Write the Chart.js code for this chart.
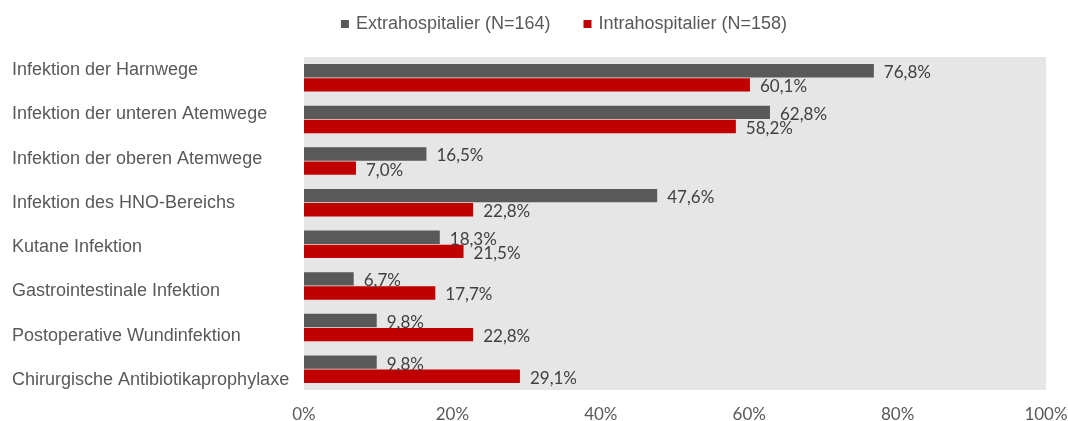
<!DOCTYPE html>
<html>
<head>
<meta charset="utf-8">
<script src="https://cdn.jsdelivr.net/npm/chart.js@4/dist/chart.umd.min.js"></script>
<style>
  html, body { margin: 0; padding: 0; background: #fff; }
  #wrap { width: 1068px; height: 421px; }
</style>
</head>
<body>
<div id="wrap"><canvas id="bar-chart"></canvas></div>
<script>
var categories = [
    "Infektion der Harnwege",
    "Infektion der unteren Atemwege",
    "Infektion der oberen Atemwege",
    "Infektion des HNO-Bereichs",
    "Kutane Infektion",
    "Gastrointestinale Infektion",
    "Postoperative Wundinfektion",
    "Chirurgische Antibiotikaprophylaxe"
];
var extraValues = [76.8, 62.8, 16.5, 47.6, 18.3, 6.7, 9.8, 9.8];
var intraValues = [60.1, 58.2, 7.0, 22.8, 21.5, 17.7, 22.8, 29.1];
var seriesNames = ["Extrahospitalier (N=164)", "Intrahospitalier (N=158)"];

// grey plot area
var areaBg = {
    id: "areaBg",
    beforeDraw: function (chart) {
        var a = chart.chartArea, c = chart.ctx;
        c.save();
        c.fillStyle = "#e6e6e6";
        c.fillRect(a.left, a.top, a.right - a.left, a.bottom - a.top);
        c.restore();
    }
};

// legend: fixed block height, moved up and a little right of centre
var legendTweak = {
    id: "legendTweak",
    afterInit: function (chart) {
        var lg = chart.legend;
        var fit = lg.fit;
        lg.fit = function () {
            fit.call(this);
            this.height = 57;
        };
    },
    afterLayout: function (chart) {
        var lg = chart.legend;
        lg.left += 25;
        lg.right += 25;
        lg.top -= 20;
        lg.bottom -= 20;
    }
};

// category names: spread a bit wider than the bars, as in the original
var categoryLabels = {
    id: "categoryLabels",
    afterDraw: function (chart) {
        var a = chart.chartArea, c = chart.ctx;
        var top = a.top - 9, bottom = a.bottom + 12;
        var step = (bottom - top) / categories.length;
        c.save();
        c.font = "18px 'Liberation Sans'";
        c.fillStyle = "#595959";
        c.textBaseline = "middle";
        categories.forEach(function (name, i) {
            c.fillText(name, 12, top + step * (i + 0.5));
        });
        c.restore();
    }
};

// value labels at the end of each bar
var valueLabels = {
    id: "valueLabels",
    afterDatasetsDraw: function (chart) {
        var c = chart.ctx;
        c.save();
        c.font = "17px Lato";
        c.fillStyle = "#404040";
        c.textBaseline = "middle";
        chart.data.datasets.forEach(function (ds, i) {
            chart.getDatasetMeta(i).data.forEach(function (bar, j) {
                var txt = ds.data[j].toFixed(1).replace(".", ",") + "%";
                c.fillText(txt, bar.x + 10, bar.y + 2);
            });
        });
        c.restore();
    }
};

var ctx = document.getElementById("bar-chart").getContext("2d");
var myChart = new Chart(ctx, {
    type: "bar",
    data: {
        labels: categories,
        datasets: [{
            label: seriesNames[0],
            data: extraValues,
            backgroundColor: "#595959",
            categoryPercentage: 0.68,
            barPercentage: 0.94
        }, {
            label: seriesNames[1],
            data: intraValues,
            backgroundColor: "#c00000",
            categoryPercentage: 0.68,
            barPercentage: 0.94
        }]
    },
    options: {
        indexAxis: "y",
        responsive: true,
        maintainAspectRatio: false,
        animation: false,
        layout: { padding: { left: 12, right: 0, top: 0, bottom: 0 } },
        plugins: {
            legend: {
                position: "top",
                labels: {
                    usePointStyle: true,
                    pointStyle: "rect",
                    boxWidth: 4,
                    boxHeight: 8,
                    padding: 35,
                    color: "#595959",
                    font: { family: "Liberation Sans", size: 18 }
                }
            },
            tooltip: { enabled: false }
        },
        scales: {
            x: {
                min: 0,
                max: 100,
                afterFit: function (scale) {
                    scale.height = 31;
                    scale.paddingRight = 22;
                },
                ticks: {
                    stepSize: 20,
                    padding: 14,
                    color: "#595959",
                    font: { family: "Lato", size: 17 },
                    callback: function (v) { return v + "%"; }
                },
                grid: { display: false, drawTicks: false },
                border: { display: false }
            },
            y: {
                afterFit: function (scale) { scale.width = 292; },
                ticks: { display: false },
                grid: { display: false, drawTicks: false },
                border: { display: false }
            }
        }
    },
    plugins: [areaBg, legendTweak, categoryLabels, valueLabels]
});
</script>
</body>
</html>
